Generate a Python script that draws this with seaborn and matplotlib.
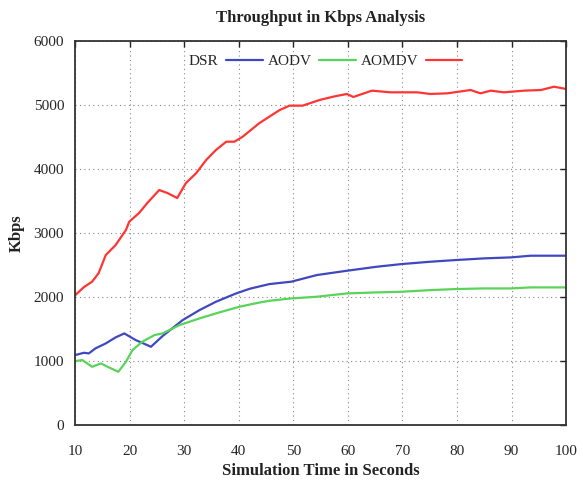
import matplotlib
matplotlib.use("Agg")
import matplotlib.pyplot as plt
import seaborn as sns
import pandas as pd

# Throughput traces (time in seconds, throughput in Kbps)
dsr_t = [10, 11.6, 12.5, 13.7, 15.6, 17.4, 19, 21.1, 23.9, 26, 29.7, 32.8, 35.8,
         39.5, 42, 45.6, 49.6, 54.3, 59.8, 65.3, 69.9, 75.1, 79.7, 84.9, 89.9, 93.5, 100]
dsr_v = [1094, 1130, 1120, 1198, 1276, 1370, 1432, 1328, 1224, 1390, 1640, 1797, 1927,
         2057, 2130, 2203, 2240, 2344, 2411, 2474, 2516, 2552, 2578, 2604, 2620, 2646, 2646]

aodv_t = [10, 11.3, 13.1, 14.7, 16.2, 17.9, 19.3, 20.5, 22.3, 24.5, 26, 29.1, 32.8,
          35.8, 40.1, 43.8, 45.6, 49.6, 54.3, 59.8, 65.3, 69.9, 75.1, 79.7, 84.9, 89.9, 93.5, 100]
aodv_v = [1000, 1016, 911, 964, 901, 833, 989, 1172, 1302, 1406, 1432, 1562, 1667,
          1745, 1849, 1915, 1942, 1979, 2005, 2057, 2073, 2083, 2109, 2125, 2135, 2135, 2151, 2151]

aomdv_t = [10, 11.6, 13.1, 14.3, 15.6, 17.4, 19.3, 19.9, 21.7, 23.2, 25.4, 26.9, 28.7,
           30.3, 32.2, 34, 35.8, 37.7, 39.2, 40.7, 43.8, 47.5, 49.3, 51.7, 54.8, 57.3,
           59.8, 61, 64.4, 67.8, 72.7, 75.1, 78.2, 82.5, 84.3, 86.2, 88.6, 92.3, 95.4,
           97.8, 100]
aomdv_v = [2030, 2156, 2240, 2375, 2656, 2812, 3047, 3177, 3312, 3468, 3672, 3625, 3547,
           3781, 3937, 4140, 4297, 4427, 4427, 4505, 4719, 4922, 4990, 4990, 5078, 5130,
           5172, 5125, 5224, 5198, 5198, 5172, 5182, 5234, 5182, 5224, 5198, 5224, 5234,
           5286, 5250]

protocols = ["DSR", "AODV", "AOMDV"]
colors = ["#4048c0", "#5ad35a", "#ff3434"]

df = pd.concat([
    pd.DataFrame({"time": dsr_t, "kbps": dsr_v, "protocol": "DSR"}),
    pd.DataFrame({"time": aodv_t, "kbps": aodv_v, "protocol": "AODV"}),
    pd.DataFrame({"time": aomdv_t, "kbps": aomdv_v, "protocol": "AOMDV"}),
], ignore_index=True)

sns.set_style("white")
plt.rcParams["font.family"] = ["Liberation Serif", "DejaVu Serif"]

fig = plt.figure(figsize=(5.83, 4.82), dpi=100)
ax = fig.add_axes([0.129, 0.118, 0.842, 0.797])

sns.lineplot(data=df, x="time", y="kbps", hue="protocol", hue_order=protocols,
             palette=colors, linewidth=1.6, ax=ax, sort=False, estimator=None)

ax.set_xlim(10, 100)
ax.set_ylim(0, 6000)
ax.set_xticks(range(10, 101, 10))
ax.set_yticks(range(0, 6001, 1000))
ax.grid(True, color="#888888", linestyle=(0, (1, 3)), linewidth=0.8)
ax.tick_params(direction="in", top=True, right=True, length=4, width=1,
               labelsize=11, color="#222222")
ax.tick_params(axis="x", pad=14)
ax.tick_params(axis="y", pad=8)
for s in ax.spines.values():
    s.set_color("#333333")
    s.set_linewidth(1.3)

ax.set_title("Throughput in Kbps Analysis", fontsize=12, fontweight="bold",
             color="#222222", pad=14)
ax.set_xlabel("Simulation Time in Seconds", fontsize=12, fontweight="bold",
              color="#222222", labelpad=4)
ax.set_ylabel("Kbps", fontsize=12, fontweight="bold", color="#222222", labelpad=6)

handles, labels = ax.get_legend_handles_labels()
ax.legend(handles, labels, loc="upper center", bbox_to_anchor=(0.51, 1.0),
          ncol=3, frameon=False, markerfirst=False, handlelength=2.4,
          columnspacing=0.3, handletextpad=0.5, fontsize=11)

fig.savefig("out.png", dpi=100)
